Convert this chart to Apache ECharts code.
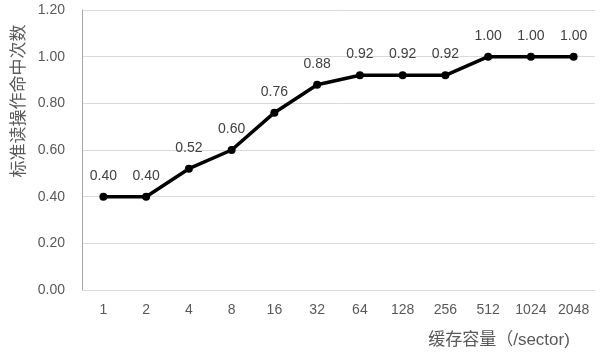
<!DOCTYPE html>
<html><head><meta charset="utf-8">
<script src="https://cdn.jsdelivr.net/npm/echarts@6/dist/echarts.min.js"></script>
<style>html,body{margin:0;padding:0;background:#fff}#c{width:602px;height:353px}</style>
</head><body><div id="c"></div>
<script>
const categories = ['1','2','4','8','16','32','64','128','256','512','1024','2048'];
const hitValues = [0.40,0.40,0.52,0.60,0.76,0.88,0.92,0.92,0.92,1.00,1.00,1.00];
const yTitle = '标准读操作命中次数';
const xTitle = '缓存容量（/sector)';
const font = '"Liberation Sans", "Noto Sans CJK SC", sans-serif';
const chart = echarts.init(document.getElementById('c'));
chart.setOption({
  animation:false,
  backgroundColor:'#fff',
  grid:{left:82,right:7,top:10,bottom:63},
  xAxis:{type:'category',data:categories,boundaryGap:true,
    axisLine:{lineStyle:{color:'#d9d9d9'}},axisTick:{show:false},
    axisLabel:{color:'#595959',fontSize:14,fontFamily:font,margin:13}},
  yAxis:{type:'value',min:0,max:1.2,interval:0.2,
    axisLine:{show:true,lineStyle:{color:'#a6a6a6'}},
    splitLine:{lineStyle:{color:'#d9d9d9'}},
    axisLabel:{color:'#595959',fontSize:14,fontFamily:font,margin:17,formatter:v=>v.toFixed(2)}},
  graphic:[
    {type:'text',x:19,y:101,rotation:Math.PI/2,
     style:{text:yTitle,fill:'#595959',font:'17px '+font,textAlign:'center',textVerticalAlign:'middle'}},
    {type:'text',x:499,y:340,style:{text:xTitle,fill:'#595959',font:'17px '+font,textAlign:'center',textVerticalAlign:'middle'}}
  ],
  series:[{type:'line',data:hitValues,symbol:'circle',symbolSize:8,
    lineStyle:{color:'#000',width:3.5},itemStyle:{color:'#000'},
    label:{show:true,position:'top',distance:10,color:'#404040',fontSize:14,fontFamily:font,formatter:p=>p.value.toFixed(2)}}]
});
</script></body></html>
